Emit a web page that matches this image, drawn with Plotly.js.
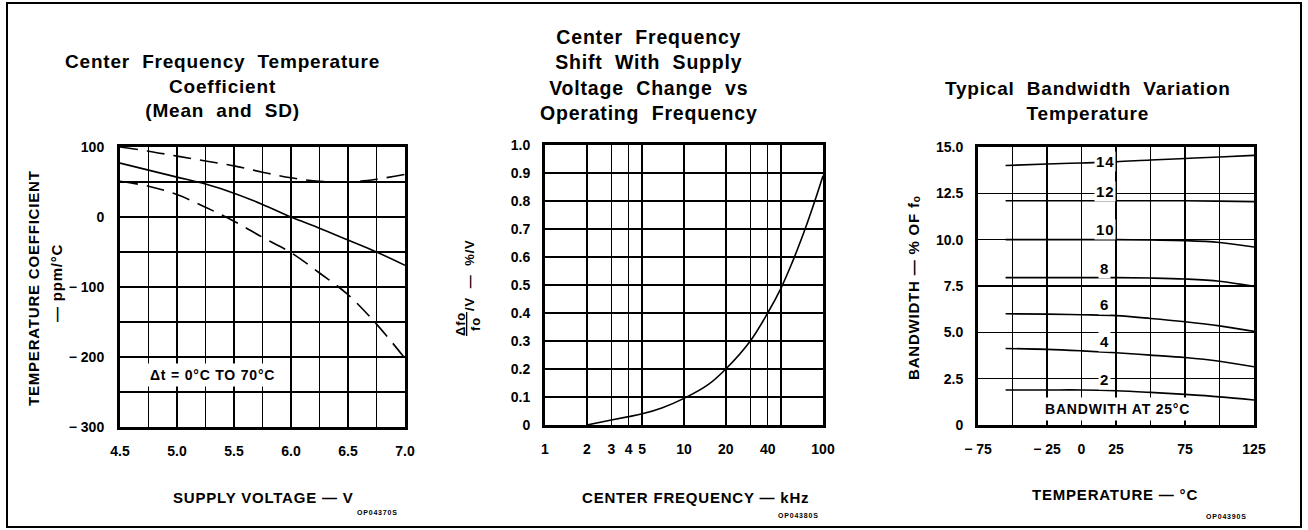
<!DOCTYPE html>
<html>
<head>
<meta charset="utf-8">
<script src="https://cdn.plot.ly/plotly-3.0.1.min.js"></script>
<style>
  html, body { margin: 0; padding: 0; background: #fff; }
  #chart { width: 1308px; height: 530px; }
  .annotation-text { letter-spacing: 0.8px; }
</style>
</head>
<body>
<div id="chart"></div>
<script>
// ---------- Panel 1: Center Frequency Temperature Coefficient ----------
const supplyVoltage = [4.5, 4.75, 5.0, 5.25, 5.5, 5.75, 6.0, 6.25, 6.5, 6.75, 7.0];
const tcMean        = [77, 67, 57, 47, 34, 18, 0, -16, -33, -50, -69];
const tcMeanPlusSD  = [100, 94, 87, 80, 73, 64, 56, 51, 50, 54, 61];
const tcMeanMinusSD = [51, 44, 32, 14, -6, -29, -51, -80, -111, -153, -202];
const p1XTickVals = [4.5, 5.0, 5.5, 6.0, 6.5, 7.0];
const p1XTickText = ['4.5', '5.0', '5.5', '6.0', '6.5', '7.0'];
const p1XMinorVals = [4.75, 5.25, 5.75, 6.25, 6.75];
const p1YTickVals = [100, 0, -100, -200, -300];
const p1YTickText = ['100', '0', '\u2212 100', '\u2212 200', '\u2212 300'];
const p1YMinorVals = [50, -50, -150, -250];

// ---------- Panel 2: Center Frequency Shift vs Operating Frequency ----------
const centerFreqKHz = [2, 3, 4, 5, 7, 10, 15, 20, 30, 40, 50, 60, 70, 80, 90, 100];
const shiftPctPerV  = [0, 0.018, 0.03, 0.04, 0.062, 0.095, 0.145, 0.2, 0.3, 0.4, 0.49, 0.58, 0.665, 0.745, 0.82, 0.89];
const p2XTickVals = [1, 2, 3, 4, 5, 10, 20, 40, 100];
const p2XTickText = ['1', '2', '3', '4', '5', '10', '20', '40', '100'];
const p2XMinorVals = [30, 50];
const p2YTickVals = [0, 0.1, 0.2, 0.3, 0.4, 0.5, 0.6, 0.7, 0.8, 0.9, 1.0];
const p2YTickText = ['0', '0.1', '0.2', '0.3', '0.4', '0.5', '0.6', '0.7', '0.8', '0.9', '1.0'];

// ---------- Panel 3: Typical Bandwidth Variation vs Temperature ----------
const temperatureC = [-55, -25, 0, 25, 50, 75, 100, 125];
const bw14 = [14.0, 14.08, 14.14, 14.2, 14.3, 14.38, 14.46, 14.55];
const bw12 = [12.1, 12.1, 12.1, 12.1, 12.1, 12.1, 12.08, 12.05];
const bw10 = [10.0, 10.0, 10.0, 10.0, 9.98, 9.95, 9.85, 9.6];
const bw8  = [7.95, 7.95, 7.95, 7.95, 7.93, 7.88, 7.76, 7.48];
const bw6  = [6.0, 5.98, 5.95, 5.9, 5.75, 5.57, 5.35, 5.05];
const bw4  = [4.13, 4.08, 4.0, 3.9, 3.77, 3.64, 3.44, 3.14];
const bw2  = [1.89, 1.89, 1.89, 1.85, 1.76, 1.65, 1.52, 1.35];
const bwSeries = [bw14, bw12, bw10, bw8, bw6, bw4, bw2];
const bwLabels = ['14', '12', '10', '8', '6', '4', '2'];
const bwLabelY = [14.2, 12.58, 10.55, 8.47, 6.48, 4.53, 2.45];
const p3XTickVals = [-75, -25, 0, 25, 75, 125];
const p3XTickText = ['\u2212 75', '\u2212 25', '0', '25', '75', '125'];
const p3XMinorVals = [-50, 50, 100];
const p3YTickVals = [0, 2.5, 5, 7.5, 10, 12.5, 15];
const p3YTickText = ['0', '2.5', '5.0', '7.5', '10.0', '12.5', '15.0'];

// ---------- layout helpers ----------
const W = 1308, H = 530;
const FONT = 'Liberation Sans, Arial, Helvetica, sans-serif';
const px = v => v / W;
const py = v => 1 - v / H;

function axisBase(extra, minorVals) {
  const ax = Object.assign({
    showline: true, linewidth: 3, linecolor: '#000', mirror: true,
    showgrid: true, gridcolor: '#000', gridwidth: 1.5,
    zeroline: false, ticks: '', tickmode: 'array',
    tickfont: { family: FONT, size: 14, color: '#000', weight: 'bold' },
    fixedrange: true
  }, extra);
  if (minorVals) {
    ax.minor = { tickmode: 'array', tickvals: minorVals, ticks: '',
      showgrid: true, gridcolor: '#000', gridwidth: 1.5 };
  }
  return ax;
}

const lineStyle = { color: '#000', width: 1.6, shape: 'spline' };

const traces = [
  { x: supplyVoltage, y: tcMean, xaxis: 'x', yaxis: 'y', mode: 'lines',
    line: Object.assign({}, lineStyle), hoverinfo: 'skip' },
  { x: supplyVoltage, y: tcMeanPlusSD, xaxis: 'x', yaxis: 'y', mode: 'lines',
    line: Object.assign({}, lineStyle, { dash: '18px,9px' }), hoverinfo: 'skip' },
  { x: supplyVoltage, y: tcMeanMinusSD, xaxis: 'x', yaxis: 'y', mode: 'lines',
    line: Object.assign({}, lineStyle, { dash: '18px,9px' }), hoverinfo: 'skip' },
  { x: centerFreqKHz, y: shiftPctPerV, xaxis: 'x2', yaxis: 'y2', mode: 'lines',
    line: Object.assign({}, lineStyle), hoverinfo: 'skip' }
];
bwSeries.forEach(s => traces.push({
  x: temperatureC, y: s, xaxis: 'x3', yaxis: 'y3', mode: 'lines',
  line: Object.assign({}, lineStyle), hoverinfo: 'skip'
}));

function paperText(text, x, y, size, opts) {
  return Object.assign({
    text: text, xref: 'paper', yref: 'paper', x: px(x), y: py(y),
    xanchor: 'center', yanchor: 'middle', showarrow: false,
    font: { family: FONT, size: size, color: '#000', weight: 'bold' }
  }, opts || {});
}

const annotations = [
  // titles
  paperText('Center\u00A0 Frequency\u00A0 Temperature<br>Coefficient<br>(Mean\u00A0 and\u00A0 SD)', 223, 86, 19),
  paperText('Center\u00A0 Frequency<br>Shift\u00A0 With\u00A0 Supply<br>Voltage\u00A0 Change\u00A0 vs<br>Operating\u00A0 Frequency', 649, 75, 19.5),
  paperText('Typical\u00A0 Bandwidth\u00A0 Variation<br>Temperature', 1088, 101, 19),
  // axis titles
  paperText('SUPPLY VOLTAGE \u2014 V', 263, 497, 15),
  paperText('TEMPERATURE COEFFICIENT', 33, 288, 15, { textangle: -90 }),
  paperText('\u2014 ppm/\u00B0C', 56, 283, 15, { textangle: -90 }),
  paperText('CENTER FREQUENCY \u2014 kHz', 695, 497, 15),
  paperText('<u>\u0394fo</u>', 460, 324, 13, { textangle: -90 }),
  paperText('fo', 475, 324, 13, { textangle: -90 }),
  paperText('/V\u00A0 \u2014\u00A0 %/V', 469, 275, 13, { textangle: -90 }),
  paperText('TEMPERATURE \u2014 \u00B0C', 1115, 494, 15),
  paperText('BANDWIDTH \u2014 % OF f\u2092', 913, 288, 15, { textangle: -90 }),
  // drawing codes
  paperText('OP04370S', 377, 512, 7),
  paperText('OP04380S', 798, 515, 7),
  paperText('OP04390S', 1226, 516, 7),
  // in-plot notes
  { text: '\u0394t = 0\u00B0C TO 70\u00B0C', xref: 'x', yref: 'y', x: 5.31, y: -226,
    showarrow: false, bgcolor: '#fff', borderpad: 3,
    font: { family: FONT, size: 14, color: '#000', weight: 'bold' } },
  { text: 'BANDWITH AT 25\u00B0C', xref: 'x3', yref: 'y3', x: 26, y: 0.85,
    showarrow: false, bgcolor: '#fff', borderpad: 3,
    font: { family: FONT, size: 14, color: '#000', weight: 'bold' } }
];
bwLabels.forEach((t, i) => annotations.push({
  text: t, xref: 'x3', yref: 'y3', x: 17, y: bwLabelY[i], showarrow: false,
  bgcolor: '#fff', borderpad: 1,
  font: { family: FONT, size: 15, color: '#000', weight: 'bold' }
}));

const layout = {
  width: W, height: H,
  margin: { l: 0, r: 0, t: 0, b: 0 },
  paper_bgcolor: '#fff', plot_bgcolor: '#fff',
  showlegend: false,
  font: { family: FONT, color: '#000' },
  xaxis: axisBase({ domain: [px(120), px(405)], range: [4.5, 7.0],
    tickvals: p1XTickVals, ticktext: p1XTickText, ticklabelstandoff: 9, anchor: 'y' }, p1XMinorVals),
  yaxis: axisBase({ domain: [py(427), py(147)], range: [-300, 100],
    tickvals: p1YTickVals, ticktext: p1YTickText, ticklabelstandoff: 10, anchor: 'x' }, p1YMinorVals),
  xaxis2: axisBase({ type: 'log', domain: [px(545), px(823)], range: [0, 2],
    tickvals: p2XTickVals, ticktext: p2XTickText, ticklabelstandoff: 9, anchor: 'y2' }, p2XMinorVals),
  yaxis2: axisBase({ domain: [py(425), py(145)], range: [0, 1],
    tickvals: p2YTickVals, ticktext: p2YTickText, ticklabelstandoff: 9, anchor: 'x2' }),
  xaxis3: axisBase({ domain: [px(978), px(1254)], range: [-75, 125],
    tickvals: p3XTickVals, ticktext: p3XTickText, ticklabelstandoff: 9, anchor: 'y3' }, p3XMinorVals),
  yaxis3: axisBase({ domain: [py(425), py(147)], range: [0, 15],
    tickvals: p3YTickVals, ticktext: p3YTickText, ticklabelstandoff: 9, anchor: 'x3' }),
  annotations: annotations,
  shapes: [
    { type: 'rect', xref: 'paper', yref: 'paper', x0: px(7), x1: px(1301), y0: py(527), y1: py(3),
      line: { color: '#000', width: 2 }, fillcolor: 'rgba(0,0,0,0)' }
  ]
};

Plotly.newPlot('chart', traces, layout, { staticPlot: true, displayModeBar: false });
</script>
</body>
</html>
